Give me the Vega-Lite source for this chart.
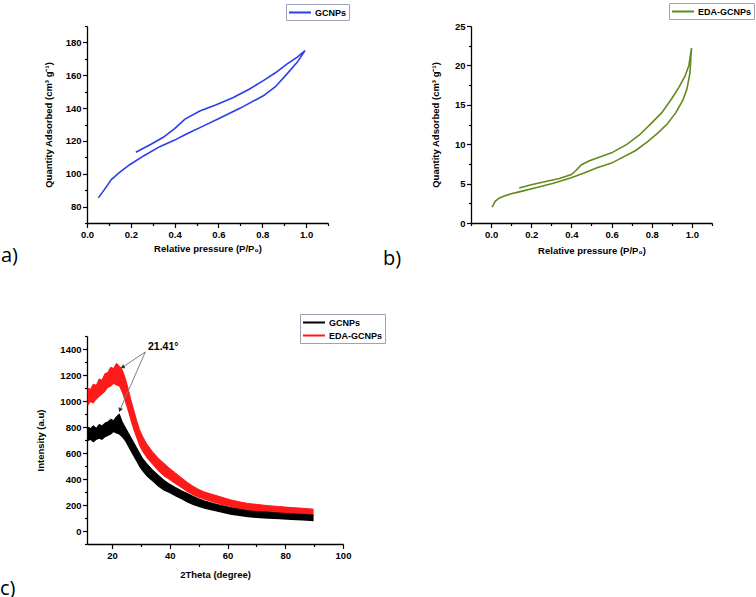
{
  "$schema": "https://vega.github.io/schema/vega-lite/v6.json",
  "padding": {"left": 0, "top": 2, "right": 2, "bottom": 0},
  "autosize": {"type": "pad"},
  "bounds": "flush",
  "background": "#ffffff",
  "columns": 2,
  "spacing": {"row": 113, "column": 128},
  "resolve": {"scale": {"color": "independent", "stroke": "independent"}, "legend": {"color": "independent", "stroke": "independent"}},
  "config": {
    "view": {"stroke": null},
    "font": "Liberation Sans",
    "axis": {
      "grid": false,
      "domainColor": "#000000",
      "domainWidth": 1.3,
      "tickColor": "#000000",
      "tickWidth": 1.2,
      "tickSize": 4.5,
      "labelPadding": 1.5,
      "labelFont": "Liberation Sans",
      "labelFontWeight": "bold",
      "labelFontSize": 9.5,
      "labelColor": "#000000",
      "labelOverlap": false,
      "labelFlush": false,
      "titleFont": "Liberation Sans",
      "titleFontWeight": "bold",
      "titleFontSize": 9.5,
      "titleColor": "#000000"
    },
    "legend": {
      "orient": "none",
      "labelFont": "Liberation Sans",
      "labelFontWeight": "bold",
      "labelFontSize": 9,
      "labelColor": "#000000",
      "labelOffset": 14,
      "symbolType": "M-1,0H3",
      "symbolSize": 121,
      "symbolStrokeWidth": 2,
      "strokeColor": "#a0a0b8",
      "padding": 2,
      "rowPadding": 1
    }
  },
  "datasets": {
    "a": [
      {"s": "GCNPs", "i": 1, "p": 0.052, "q": 85.3},
      {"s": "GCNPs", "i": 2, "p": 0.08, "q": 90.5},
      {"s": "GCNPs", "i": 3, "p": 0.111, "q": 96.4},
      {"s": "GCNPs", "i": 4, "p": 0.15, "q": 101},
      {"s": "GCNPs", "i": 5, "p": 0.195, "q": 105.5},
      {"s": "GCNPs", "i": 6, "p": 0.26, "q": 111},
      {"s": "GCNPs", "i": 7, "p": 0.332, "q": 116.5},
      {"s": "GCNPs", "i": 8, "p": 0.4, "q": 120.5},
      {"s": "GCNPs", "i": 9, "p": 0.454, "q": 124.2},
      {"s": "GCNPs", "i": 10, "p": 0.53, "q": 129},
      {"s": "GCNPs", "i": 11, "p": 0.607, "q": 134},
      {"s": "GCNPs", "i": 12, "p": 0.7, "q": 140},
      {"s": "GCNPs", "i": 13, "p": 0.805, "q": 147.5},
      {"s": "GCNPs", "i": 14, "p": 0.86, "q": 153},
      {"s": "GCNPs", "i": 15, "p": 0.912, "q": 160.7},
      {"s": "GCNPs", "i": 16, "p": 0.96, "q": 168},
      {"s": "GCNPs", "i": 17, "p": 0.995, "q": 175},
      {"s": "GCNPs", "i": 18, "p": 0.96, "q": 171},
      {"s": "GCNPs", "i": 19, "p": 0.912, "q": 166.8},
      {"s": "GCNPs", "i": 20, "p": 0.86, "q": 161.5},
      {"s": "GCNPs", "i": 21, "p": 0.805, "q": 156.7},
      {"s": "GCNPs", "i": 22, "p": 0.74, "q": 151.5},
      {"s": "GCNPs", "i": 23, "p": 0.668, "q": 146.5},
      {"s": "GCNPs", "i": 24, "p": 0.59, "q": 142},
      {"s": "GCNPs", "i": 25, "p": 0.515, "q": 138.2},
      {"s": "GCNPs", "i": 26, "p": 0.447, "q": 133.3},
      {"s": "GCNPs", "i": 27, "p": 0.4, "q": 127.5},
      {"s": "GCNPs", "i": 28, "p": 0.348, "q": 122.2},
      {"s": "GCNPs", "i": 29, "p": 0.29, "q": 117.8},
      {"s": "GCNPs", "i": 30, "p": 0.223, "q": 113.1}
    ],
    "b": [
      {"s": "EDA-GCNPs", "i": 1, "p": 0.005, "q": 2.0},
      {"s": "EDA-GCNPs", "i": 2, "p": 0.02, "q": 2.75},
      {"s": "EDA-GCNPs", "i": 3, "p": 0.04, "q": 3.15},
      {"s": "EDA-GCNPs", "i": 4, "p": 0.062, "q": 3.4},
      {"s": "EDA-GCNPs", "i": 5, "p": 0.1, "q": 3.7},
      {"s": "EDA-GCNPs", "i": 6, "p": 0.14, "q": 3.95},
      {"s": "EDA-GCNPs", "i": 7, "p": 0.228, "q": 4.5},
      {"s": "EDA-GCNPs", "i": 8, "p": 0.31, "q": 5.05},
      {"s": "EDA-GCNPs", "i": 9, "p": 0.395, "q": 5.7},
      {"s": "EDA-GCNPs", "i": 10, "p": 0.46, "q": 6.3},
      {"s": "EDA-GCNPs", "i": 11, "p": 0.528, "q": 7.0},
      {"s": "EDA-GCNPs", "i": 12, "p": 0.6, "q": 7.6},
      {"s": "EDA-GCNPs", "i": 13, "p": 0.645, "q": 8.2},
      {"s": "EDA-GCNPs", "i": 14, "p": 0.72, "q": 9.2},
      {"s": "EDA-GCNPs", "i": 15, "p": 0.778, "q": 10.3},
      {"s": "EDA-GCNPs", "i": 16, "p": 0.83, "q": 11.4},
      {"s": "EDA-GCNPs", "i": 17, "p": 0.878, "q": 12.6},
      {"s": "EDA-GCNPs", "i": 18, "p": 0.92, "q": 14.0},
      {"s": "EDA-GCNPs", "i": 19, "p": 0.955, "q": 15.6},
      {"s": "EDA-GCNPs", "i": 20, "p": 0.975, "q": 17.0},
      {"s": "EDA-GCNPs", "i": 21, "p": 0.99, "q": 19.0},
      {"s": "EDA-GCNPs", "i": 22, "p": 0.998, "q": 22.2},
      {"s": "EDA-GCNPs", "i": 23, "p": 0.985, "q": 20.0},
      {"s": "EDA-GCNPs", "i": 24, "p": 0.965, "q": 18.6},
      {"s": "EDA-GCNPs", "i": 25, "p": 0.935, "q": 17.2},
      {"s": "EDA-GCNPs", "i": 26, "p": 0.9, "q": 15.8},
      {"s": "EDA-GCNPs", "i": 27, "p": 0.85, "q": 14.0},
      {"s": "EDA-GCNPs", "i": 28, "p": 0.8, "q": 12.7},
      {"s": "EDA-GCNPs", "i": 29, "p": 0.74, "q": 11.2},
      {"s": "EDA-GCNPs", "i": 30, "p": 0.678, "q": 10.0},
      {"s": "EDA-GCNPs", "i": 31, "p": 0.6, "q": 8.9},
      {"s": "EDA-GCNPs", "i": 32, "p": 0.545, "q": 8.4},
      {"s": "EDA-GCNPs", "i": 33, "p": 0.49, "q": 7.9},
      {"s": "EDA-GCNPs", "i": 34, "p": 0.45, "q": 7.4},
      {"s": "EDA-GCNPs", "i": 35, "p": 0.42, "q": 6.6},
      {"s": "EDA-GCNPs", "i": 36, "p": 0.40, "q": 6.15},
      {"s": "EDA-GCNPs", "i": 37, "p": 0.34, "q": 5.65},
      {"s": "EDA-GCNPs", "i": 38, "p": 0.278, "q": 5.3},
      {"s": "EDA-GCNPs", "i": 39, "p": 0.2, "q": 4.85},
      {"s": "EDA-GCNPs", "i": 40, "p": 0.14, "q": 4.45}
    ],
    "c": [
      {"s": "GCNPs", "t": 11.5, "lo": 690, "hi": 800},
      {"s": "GCNPs", "t": 12.5, "lo": 700, "hi": 790},
      {"s": "GCNPs", "t": 13.5, "lo": 680, "hi": 810},
      {"s": "GCNPs", "t": 14.5, "lo": 700, "hi": 790},
      {"s": "GCNPs", "t": 15.5, "lo": 710, "hi": 820},
      {"s": "GCNPs", "t": 16.5, "lo": 700, "hi": 810},
      {"s": "GCNPs", "t": 17.5, "lo": 720, "hi": 830},
      {"s": "GCNPs", "t": 18.5, "lo": 730, "hi": 840},
      {"s": "GCNPs", "t": 19.5, "lo": 740, "hi": 860},
      {"s": "GCNPs", "t": 20.5, "lo": 760, "hi": 850},
      {"s": "GCNPs", "t": 21.5, "lo": 750, "hi": 880},
      {"s": "GCNPs", "t": 22.5, "lo": 740, "hi": 900},
      {"s": "GCNPs", "t": 23.5, "lo": 720, "hi": 840},
      {"s": "GCNPs", "t": 24.5, "lo": 690, "hi": 800},
      {"s": "GCNPs", "t": 25.5, "lo": 650, "hi": 760},
      {"s": "GCNPs", "t": 26.5, "lo": 610, "hi": 720},
      {"s": "GCNPs", "t": 27.5, "lo": 570, "hi": 680},
      {"s": "GCNPs", "t": 28.5, "lo": 530, "hi": 640},
      {"s": "GCNPs", "t": 29.5, "lo": 490, "hi": 600},
      {"s": "GCNPs", "t": 30.5, "lo": 460, "hi": 560},
      {"s": "GCNPs", "t": 32, "lo": 420, "hi": 520},
      {"s": "GCNPs", "t": 34, "lo": 380, "hi": 470},
      {"s": "GCNPs", "t": 36, "lo": 340, "hi": 430},
      {"s": "GCNPs", "t": 38, "lo": 310, "hi": 390},
      {"s": "GCNPs", "t": 40, "lo": 290, "hi": 360},
      {"s": "GCNPs", "t": 42, "lo": 265, "hi": 335},
      {"s": "GCNPs", "t": 44, "lo": 245, "hi": 310},
      {"s": "GCNPs", "t": 46, "lo": 220, "hi": 290},
      {"s": "GCNPs", "t": 48, "lo": 200, "hi": 268},
      {"s": "GCNPs", "t": 50, "lo": 185, "hi": 248},
      {"s": "GCNPs", "t": 52, "lo": 172, "hi": 232},
      {"s": "GCNPs", "t": 55, "lo": 155, "hi": 212},
      {"s": "GCNPs", "t": 58, "lo": 140, "hi": 195},
      {"s": "GCNPs", "t": 61, "lo": 125, "hi": 180},
      {"s": "GCNPs", "t": 64, "lo": 115, "hi": 168},
      {"s": "GCNPs", "t": 67, "lo": 105, "hi": 155},
      {"s": "GCNPs", "t": 70, "lo": 100, "hi": 150},
      {"s": "GCNPs", "t": 74, "lo": 95, "hi": 145},
      {"s": "GCNPs", "t": 78, "lo": 90, "hi": 138},
      {"s": "GCNPs", "t": 82, "lo": 85, "hi": 132},
      {"s": "GCNPs", "t": 86, "lo": 80, "hi": 128},
      {"s": "GCNPs", "t": 89.8, "lo": 75, "hi": 122},
      {"s": "EDA-GCNPs", "t": 11.5, "lo": 960, "hi": 1100},
      {"s": "EDA-GCNPs", "t": 12.5, "lo": 990, "hi": 1090},
      {"s": "EDA-GCNPs", "t": 13.5, "lo": 980, "hi": 1130},
      {"s": "EDA-GCNPs", "t": 14.5, "lo": 1010, "hi": 1120},
      {"s": "EDA-GCNPs", "t": 15.5, "lo": 1030, "hi": 1170},
      {"s": "EDA-GCNPs", "t": 16.5, "lo": 1050, "hi": 1160},
      {"s": "EDA-GCNPs", "t": 17.5, "lo": 1070, "hi": 1210},
      {"s": "EDA-GCNPs", "t": 18.5, "lo": 1100, "hi": 1220},
      {"s": "EDA-GCNPs", "t": 19.5, "lo": 1110, "hi": 1260},
      {"s": "EDA-GCNPs", "t": 20.5, "lo": 1130, "hi": 1250},
      {"s": "EDA-GCNPs", "t": 21.5, "lo": 1120, "hi": 1290},
      {"s": "EDA-GCNPs", "t": 22.5, "lo": 1110, "hi": 1270},
      {"s": "EDA-GCNPs", "t": 23.5, "lo": 1060, "hi": 1240},
      {"s": "EDA-GCNPs", "t": 24.5, "lo": 990, "hi": 1180},
      {"s": "EDA-GCNPs", "t": 25.5, "lo": 920, "hi": 1100},
      {"s": "EDA-GCNPs", "t": 26.5, "lo": 840, "hi": 1010},
      {"s": "EDA-GCNPs", "t": 27.5, "lo": 770, "hi": 930},
      {"s": "EDA-GCNPs", "t": 28.5, "lo": 710, "hi": 850},
      {"s": "EDA-GCNPs", "t": 29.5, "lo": 650, "hi": 780},
      {"s": "EDA-GCNPs", "t": 30.5, "lo": 610, "hi": 730},
      {"s": "EDA-GCNPs", "t": 32, "lo": 560, "hi": 670},
      {"s": "EDA-GCNPs", "t": 34, "lo": 510, "hi": 610},
      {"s": "EDA-GCNPs", "t": 36, "lo": 460, "hi": 560},
      {"s": "EDA-GCNPs", "t": 38, "lo": 420, "hi": 520},
      {"s": "EDA-GCNPs", "t": 40, "lo": 390, "hi": 480},
      {"s": "EDA-GCNPs", "t": 42, "lo": 360, "hi": 445},
      {"s": "EDA-GCNPs", "t": 44, "lo": 330, "hi": 410},
      {"s": "EDA-GCNPs", "t": 46, "lo": 300, "hi": 375},
      {"s": "EDA-GCNPs", "t": 48, "lo": 275, "hi": 345},
      {"s": "EDA-GCNPs", "t": 50, "lo": 255, "hi": 320},
      {"s": "EDA-GCNPs", "t": 52, "lo": 240, "hi": 300},
      {"s": "EDA-GCNPs", "t": 55, "lo": 220, "hi": 280},
      {"s": "EDA-GCNPs", "t": 58, "lo": 200, "hi": 260},
      {"s": "EDA-GCNPs", "t": 61, "lo": 185, "hi": 240},
      {"s": "EDA-GCNPs", "t": 64, "lo": 170, "hi": 225},
      {"s": "EDA-GCNPs", "t": 67, "lo": 150, "hi": 212},
      {"s": "EDA-GCNPs", "t": 70, "lo": 145, "hi": 205},
      {"s": "EDA-GCNPs", "t": 74, "lo": 140, "hi": 195},
      {"s": "EDA-GCNPs", "t": 78, "lo": 135, "hi": 188},
      {"s": "EDA-GCNPs", "t": 82, "lo": 128, "hi": 180},
      {"s": "EDA-GCNPs", "t": 86, "lo": 122, "hi": 175},
      {"s": "EDA-GCNPs", "t": 89.8, "lo": 118, "hi": 168}
    ],
    "ann": [
      {"label": "21.41°", "t": 37.7, "v": 1415}
    ],
    "arrows": [
      {"k": "red", "t": 31.5, "v": 1377, "t2": 23.8, "v2": 1262},
      {"k": "black", "t": 31.5, "v": 1377, "t2": 22.8, "v2": 935}
    ]
  },
  "concat": [
    {
      "width": 241,
      "height": 197,
      "data": {"name": "a"},
      "title": {"text": "a)", "orient": "bottom", "anchor": "start", "frame": "group", "dx": -86, "dy": -7, "offset": 0, "font": "Open Sans", "fontSize": 20, "fontWeight": "normal", "color": "#000000"},
      "mark": {"type": "line", "strokeWidth": 1.6},
      "encoding": {
        "x": {"field": "p", "type": "quantitative",
          "scale": {"domain": [0, 1.1], "nice": false, "zero": false},
          "axis": {"title": "Relative pressure (P/P₀)", "titlePadding": 5, "format": ".1f",
            "values": [0, 0.1, 0.2, 0.3, 0.4, 0.5, 0.6, 0.7, 0.8, 0.9, 1.0, 1.1],
            "labelExpr": "round(datum.value*10) % 2 != 0 ? '' : datum.label",
            "tickSize": {"condition": {"test": "round(datum.value*10) % 2 != 0", "value": 2.5}, "value": 4.5}}},
        "y": {"field": "q", "type": "quantitative",
          "scale": {"domain": [70, 190], "nice": false, "zero": false},
          "axis": {"title": "Quantity Adsorbed  (cm³ g⁻¹)", "titlePadding": 12, "format": "d",
            "values": [70, 80, 90, 100, 110, 120, 130, 140, 150, 160, 170, 180, 190],
            "labelExpr": "datum.value % 20 != 0 ? '' : datum.label",
            "tickSize": {"condition": {"test": "datum.value % 20 != 0", "value": 2.5}, "value": 4.5}}},
        "order": {"field": "i", "type": "quantitative"},
        "color": {"field": "s", "type": "nominal", "scale": {"range": ["#2a3cf0"]},
          "legend": {"title": null, "legendX": 199, "legendY": -22}}
      }
    },
    {
      "width": 241,
      "height": 197,
      "data": {"name": "b"},
      "title": {"text": "b)", "orient": "bottom", "anchor": "start", "frame": "group", "dx": -88, "dy": -6, "offset": 0, "font": "Open Sans", "fontSize": 20, "fontWeight": "normal", "color": "#000000"},
      "mark": {"type": "line", "strokeWidth": 1.6},
      "encoding": {
        "x": {"field": "p", "type": "quantitative",
          "scale": {"domain": [-0.1, 1.1], "nice": false, "zero": false},
          "axis": {"title": "Relative pressure (P/P₀)", "titlePadding": 7, "format": ".1f",
            "values": [-0.1, 0, 0.1, 0.2, 0.3, 0.4, 0.5, 0.6, 0.7, 0.8, 0.9, 1.0, 1.1],
            "labelExpr": "round(datum.value*10) % 2 != 0 ? '' : datum.label",
            "tickSize": {"condition": {"test": "round(datum.value*10) % 2 != 0", "value": 2.5}, "value": 4.5}}},
        "y": {"field": "q", "type": "quantitative",
          "scale": {"domain": [0, 25], "nice": false, "zero": false},
          "axis": {"title": "Quantity Adsorbed  (cm³ g⁻¹)", "titlePadding": 14, "format": "d",
            "values": [0, 2.5, 5, 7.5, 10, 12.5, 15, 17.5, 20, 22.5, 25],
            "labelExpr": "datum.value % 5 != 0 ? '' : datum.label",
            "tickSize": {"condition": {"test": "datum.value % 5 != 0", "value": 2.5}, "value": 4.5}}},
        "order": {"field": "i", "type": "quantitative"},
        "color": {"field": "s", "type": "nominal", "scale": {"range": ["#628a1e"]},
          "legend": {"title": null, "legendX": 198, "legendY": -23}}
      }
    },
    {
      "width": 256,
      "height": 208,
      "title": {"text": "c)", "orient": "bottom", "anchor": "start", "frame": "group", "dx": -87, "dy": 0, "offset": 0, "font": "Open Sans", "fontSize": 20, "fontWeight": "normal", "color": "#000000"},
      "layer": [
        {
          "data": {"name": "c"},
          "transform": [{"filter": "datum.s == 'EDA-GCNPs'"}],
          "mark": {"type": "area", "color": "#ff1a1a"},
          "encoding": {
            "x": {"field": "t", "type": "quantitative",
              "scale": {"domain": [11.3, 100], "nice": false, "zero": false},
              "axis": {"title": "2Theta (degree)", "titlePadding": 10, "format": "d",
                "values": [20, 30, 40, 50, 60, 70, 80, 90, 100],
                "labelExpr": "datum.value % 20 != 0 ? '' : datum.label",
                "tickSize": {"condition": {"test": "datum.value % 20 != 0", "value": 2.5}, "value": 4.5}}},
            "y": {"field": "lo", "type": "quantitative",
              "scale": {"domain": [-100, 1500], "nice": false, "zero": false},
              "axis": {"title": "Intensity (a.u)", "titlePadding": 14, "format": "d",
                "values": [-100, 0, 100, 200, 300, 400, 500, 600, 700, 800, 900, 1000, 1100, 1200, 1300, 1400, 1500],
                "labelExpr": "datum.value % 200 != 0 ? '' : datum.label",
                "tickSize": {"condition": {"test": "datum.value % 200 != 0", "value": 2.5}, "value": 4.5}}},
            "y2": {"field": "hi"}
          }
        },
        {
          "data": {"name": "c"},
          "transform": [{"filter": "datum.s == 'GCNPs'"}],
          "mark": {"type": "area", "color": "#000000"},
          "encoding": {
            "x": {"field": "t", "type": "quantitative",
              "axis": {"title": "2Theta (degree)", "titlePadding": 10, "format": "d",
                "values": [20, 30, 40, 50, 60, 70, 80, 90, 100],
                "labelExpr": "datum.value % 20 != 0 ? '' : datum.label",
                "tickSize": {"condition": {"test": "datum.value % 20 != 0", "value": 2.5}, "value": 4.5}}},
            "y": {"field": "lo", "type": "quantitative",
              "axis": {"title": "Intensity (a.u)", "titlePadding": 14, "format": "d",
                "values": [-100, 0, 100, 200, 300, 400, 500, 600, 700, 800, 900, 1000, 1100, 1200, 1300, 1400, 1500],
                "labelExpr": "datum.value % 200 != 0 ? '' : datum.label",
                "tickSize": {"condition": {"test": "datum.value % 200 != 0", "value": 2.5}, "value": 4.5}}},
            "y2": {"field": "hi"}
          }
        },
        {
          "data": {"name": "c"},
          "mark": {"type": "line", "strokeWidth": 1},
          "encoding": {
            "x": {"field": "t", "type": "quantitative",
              "axis": {"title": "2Theta (degree)", "titlePadding": 10, "format": "d",
                "values": [20, 30, 40, 50, 60, 70, 80, 90, 100],
                "labelExpr": "datum.value % 20 != 0 ? '' : datum.label",
                "tickSize": {"condition": {"test": "datum.value % 20 != 0", "value": 2.5}, "value": 4.5}}},
            "y": {"field": "hi", "type": "quantitative",
              "axis": {"title": "Intensity (a.u)", "titlePadding": 14, "format": "d",
                "values": [-100, 0, 100, 200, 300, 400, 500, 600, 700, 800, 900, 1000, 1100, 1200, 1300, 1400, 1500],
                "labelExpr": "datum.value % 200 != 0 ? '' : datum.label",
                "tickSize": {"condition": {"test": "datum.value % 200 != 0", "value": 2.5}, "value": 4.5}}},
            "stroke": {"field": "s", "type": "nominal",
              "scale": {"domain": ["GCNPs", "EDA-GCNPs"], "range": ["#000000", "#ff1a1a"]},
              "legend": {"title": null, "legendX": 213, "legendY": -22}}
          }
        },
        {
          "data": {"name": "arrows"},
          "mark": {"type": "rule", "color": "#808080", "strokeWidth": 1},
          "encoding": {
            "x": {"field": "t", "type": "quantitative",
              "axis": {"title": "2Theta (degree)", "titlePadding": 10, "format": "d",
                "values": [20, 30, 40, 50, 60, 70, 80, 90, 100],
                "labelExpr": "datum.value % 20 != 0 ? '' : datum.label",
                "tickSize": {"condition": {"test": "datum.value % 20 != 0", "value": 2.5}, "value": 4.5}}},
            "y": {"field": "v", "type": "quantitative",
              "axis": {"title": "Intensity (a.u)", "titlePadding": 14, "format": "d",
                "values": [-100, 0, 100, 200, 300, 400, 500, 600, 700, 800, 900, 1000, 1100, 1200, 1300, 1400, 1500],
                "labelExpr": "datum.value % 200 != 0 ? '' : datum.label",
                "tickSize": {"condition": {"test": "datum.value % 200 != 0", "value": 2.5}, "value": 4.5}}},
            "x2": {"field": "t2"},
            "y2": {"field": "v2"}
          }
        },
        {
          "data": {"name": "arrows"},
          "transform": [{"filter": "datum.k == 'red'"}],
          "mark": {"type": "point", "shape": "triangle", "filled": true, "color": "#303030", "opacity": 1, "size": 22, "angle": 239},
          "encoding": {
            "x": {"field": "t2", "type": "quantitative",
              "axis": {"title": "2Theta (degree)", "titlePadding": 10, "format": "d",
                "values": [20, 30, 40, 50, 60, 70, 80, 90, 100],
                "labelExpr": "datum.value % 20 != 0 ? '' : datum.label",
                "tickSize": {"condition": {"test": "datum.value % 20 != 0", "value": 2.5}, "value": 4.5}}},
            "y": {"field": "v2", "type": "quantitative",
              "axis": {"title": "Intensity (a.u)", "titlePadding": 14, "format": "d",
                "values": [-100, 0, 100, 200, 300, 400, 500, 600, 700, 800, 900, 1000, 1100, 1200, 1300, 1400, 1500],
                "labelExpr": "datum.value % 200 != 0 ? '' : datum.label",
                "tickSize": {"condition": {"test": "datum.value % 200 != 0", "value": 2.5}, "value": 4.5}}}
          }
        },
        {
          "data": {"name": "arrows"},
          "transform": [{"filter": "datum.k == 'black'"}],
          "mark": {"type": "point", "shape": "triangle", "filled": true, "color": "#303030", "opacity": 1, "size": 22, "angle": 203},
          "encoding": {
            "x": {"field": "t2", "type": "quantitative",
              "axis": {"title": "2Theta (degree)", "titlePadding": 10, "format": "d",
                "values": [20, 30, 40, 50, 60, 70, 80, 90, 100],
                "labelExpr": "datum.value % 20 != 0 ? '' : datum.label",
                "tickSize": {"condition": {"test": "datum.value % 20 != 0", "value": 2.5}, "value": 4.5}}},
            "y": {"field": "v2", "type": "quantitative",
              "axis": {"title": "Intensity (a.u)", "titlePadding": 14, "format": "d",
                "values": [-100, 0, 100, 200, 300, 400, 500, 600, 700, 800, 900, 1000, 1100, 1200, 1300, 1400, 1500],
                "labelExpr": "datum.value % 200 != 0 ? '' : datum.label",
                "tickSize": {"condition": {"test": "datum.value % 200 != 0", "value": 2.5}, "value": 4.5}}}
          }
        },
        {
          "data": {"name": "ann"},
          "mark": {"type": "text", "font": "Liberation Sans", "fontWeight": "bold", "fontSize": 10.5, "color": "#000000", "baseline": "middle", "align": "center"},
          "encoding": {
            "x": {"field": "t", "type": "quantitative",
              "axis": {"title": "2Theta (degree)", "titlePadding": 10, "format": "d",
                "values": [20, 30, 40, 50, 60, 70, 80, 90, 100],
                "labelExpr": "datum.value % 20 != 0 ? '' : datum.label",
                "tickSize": {"condition": {"test": "datum.value % 20 != 0", "value": 2.5}, "value": 4.5}}},
            "y": {"field": "v", "type": "quantitative",
              "axis": {"title": "Intensity (a.u)", "titlePadding": 14, "format": "d",
                "values": [-100, 0, 100, 200, 300, 400, 500, 600, 700, 800, 900, 1000, 1100, 1200, 1300, 1400, 1500],
                "labelExpr": "datum.value % 200 != 0 ? '' : datum.label",
                "tickSize": {"condition": {"test": "datum.value % 200 != 0", "value": 2.5}, "value": 4.5}}},
            "text": {"field": "label"}
          }
        }
      ]
    }
  ]
}
